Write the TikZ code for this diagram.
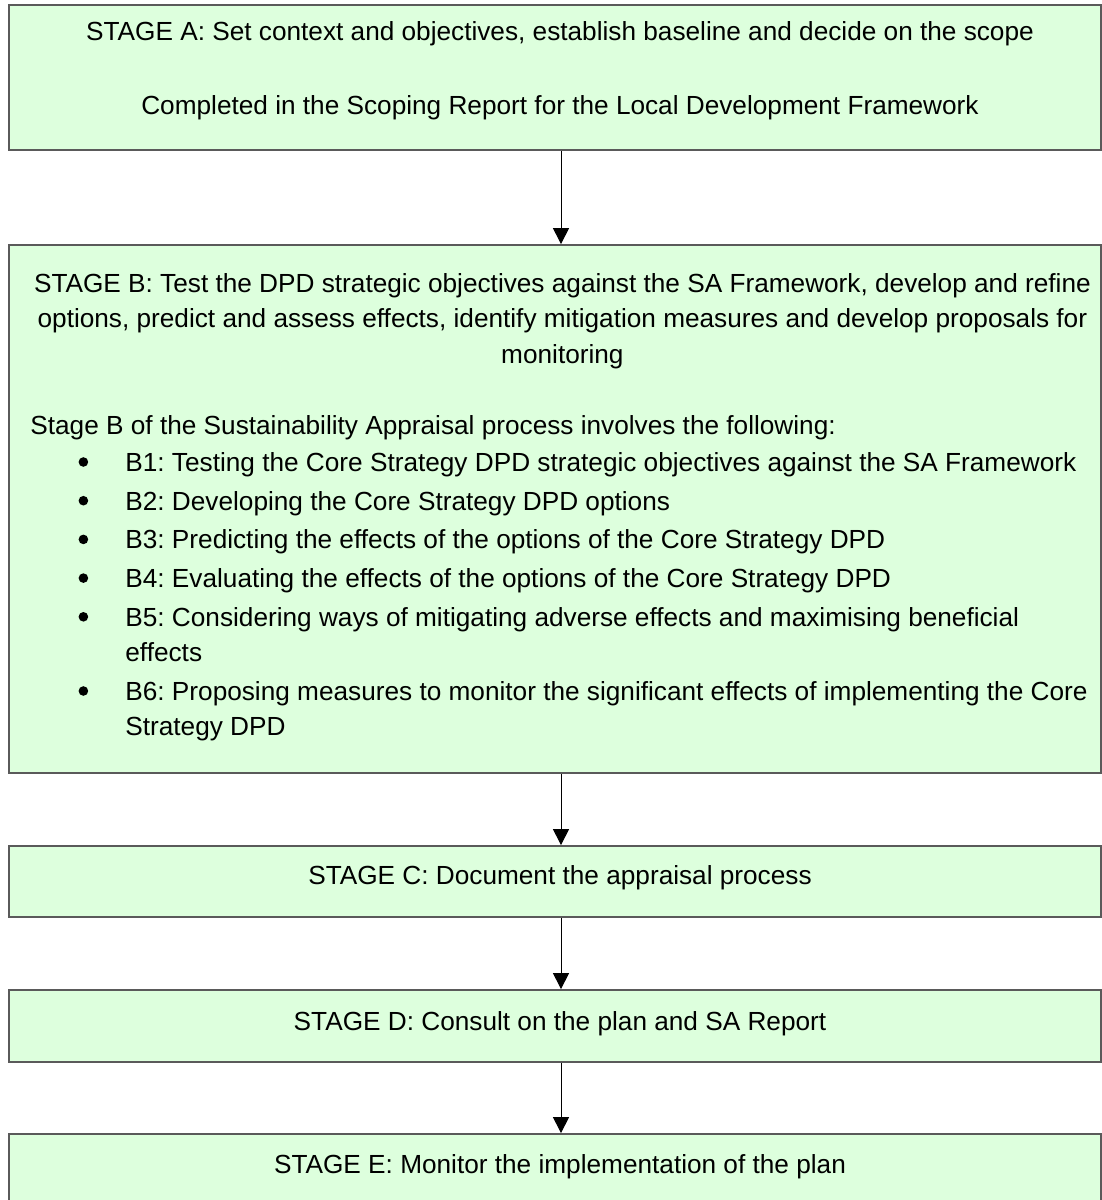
\documentclass[tikz,border=0pt]{standalone}
\usepackage{fontspec}
\setmainfont{Liberation Sans}
\usetikzlibrary{arrows.meta}
\definecolor{boxfill}{RGB}{221,255,221}
\definecolor{boxline}{RGB}{90,90,90}
\frenchspacing
\newcommand{\itembullet}{\tikz[baseline=-4.7pt]\fill (0,0) circle (2.4pt);}

\begin{document}
\begin{tikzpicture}[x=1pt,y=-1pt]

\tikzset{stage/.style = {draw=boxline,fill=boxfill,line width=0.9pt,minimum width=546pt,inner sep=0pt}}
\tikzset{stagetext/.style = {anchor=base,inner sep=0pt,font=\fontsize{13.1pt}{17.75pt}\selectfont}}
\tikzset{edge/.style = {-{Triangle[width=8pt,length=8pt]},line width=0.5pt}}

\useasboundingbox (0,0) rectangle (551,600);

\node[stage,minimum height=72.5pt] (a) at (277.5,38.75) {};
\node[stage,minimum height=264pt] (b) at (277.5,254.5) {};
\node[stage,minimum height=35.5pt] (c) at (277.5,440.75) {};
\node[stage,minimum height=36pt] (d) at (277.5,513) {};
\node[stage,minimum height=36pt] (e) at (277.5,585) {};

\node[stagetext] (a1) at (280,20.2) {STAGE A: Set context and objectives, establish baseline and decide on the scope};
\node[stagetext] (a2) at (280,57.2) {Completed in the Scoping Report for the Local Development Framework};

\node[stagetext,anchor=base west] (b1) at (15,146.2) {\begin{minipage}[t]{532pt}
{\centering
\mbox{STAGE B: Test the DPD strategic objectives against the SA Framework, develop and refine}\\
\mbox{options, predict and assess effects, identify mitigation measures and develop proposals for}\\
monitoring\par}
\vspace{\baselineskip}
{\raggedright Stage B of the Sustainability Appraisal process involves the following:\par}
\begin{list}{\itembullet}{\setlength{\leftmargin}{47.5pt}\setlength{\labelwidth}{10pt}%
\setlength{\labelsep}{18.6pt}\setlength{\topsep}{0.75pt}\setlength{\partopsep}{0pt}%
\setlength{\itemsep}{1.6pt}\setlength{\parsep}{0pt}\raggedright}
\item \mbox{B1: Testing the Core Strategy DPD strategic objectives against the SA Framework}
\item B2: Developing the Core Strategy DPD options
\item B3: Predicting the effects of the options of the Core Strategy DPD
\item B4: Evaluating the effects of the options of the Core Strategy DPD
\item \mbox{B5: Considering ways of mitigating adverse effects and maximising beneficial}\newline effects
\item \mbox{B6: Proposing measures to monitor the significant effects of implementing the Core}\newline Strategy DPD
\end{list}
\end{minipage}};

\node[stagetext] (c1) at (280,442.2) {STAGE C: Document the appraisal process};
\node[stagetext] (d1) at (280,515.2) {STAGE D: Consult on the plan and SA Report};
\node[stagetext] (e1) at (280,586.7) {STAGE E: Monitor the implementation of the plan};

\draw[edge] ([xshift=3pt]a.south) -- ([xshift=3pt]b.north);
\draw[edge] ([xshift=3pt]b.south) -- ([xshift=3pt]c.north);
\draw[edge] ([xshift=3pt]c.south) -- ([xshift=3pt]d.north);
\draw[edge] ([xshift=3pt]d.south) -- ([xshift=3pt]e.north);

\end{tikzpicture}
\end{document}
